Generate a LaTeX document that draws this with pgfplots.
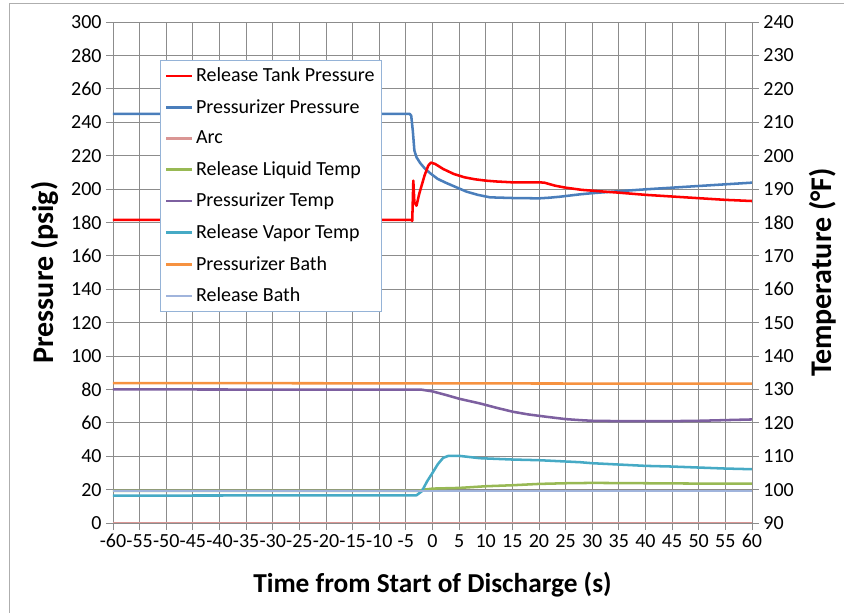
\documentclass[border=0pt]{standalone}
\usepackage{fontspec}
\setmainfont{Carlito}
\usepackage{pgfplots}
\pgfplotsset{compat=1.18}

\definecolor{cRed}{HTML}{FF0000}
\definecolor{cBlue}{HTML}{4A7EBB}
\definecolor{cArc}{HTML}{DA9694}
\definecolor{cGreen}{HTML}{98B954}
\definecolor{cPurple}{HTML}{7D60A0}
\definecolor{cTeal}{HTML}{46AAC5}
\definecolor{cOrange}{HTML}{F69240}
\definecolor{cLBlue}{HTML}{A0B4DC}
\definecolor{cGrid}{HTML}{8C8C8C}
\definecolor{cLeg}{HTML}{95B3D7}

\pgfplotsset{
  common/.style={
    width=479.25pt, height=375.75pt, scale only axis,
    xmin=-60, xmax=60,
    /pgf/number format/assume math mode=true,
    tick label style={font=\fontsize{15}{17}\selectfont},
    tick align=outside, major tick length=5pt,
    tick style={cGrid, line width=0.7pt},
    axis line style={cGrid, line width=0.7pt},
    every axis plot/.append style={line width=1.9pt, line join=round},
    legend image code/.code={\draw[##1] (0pt,0pt) -- (19.5pt,0pt);},
  }
}

\begin{document}
\begin{tikzpicture}
\useasboundingbox (-84.75pt,-67.5pt) rectangle (548.25pt,392.25pt);
\draw[cGrid!70, line width=0.7pt] (-78pt,-80pt) -- (-78pt,390pt) -- (560pt,390pt);

\begin{axis}[common,
  ymin=0, ymax=300, ytick distance=20,
  xtick distance=5,
  xtick pos=bottom, ytick pos=left,
  grid=major, major grid style={cGrid, line width=0.7pt},
  every axis y label/.style={at={(axis description cs:0,0.5)}, xshift=-51pt, rotate=90, anchor=center,
    font=\fontsize{22.5}{26}\selectfont\bfseries},
  every axis x label/.style={at={(axis description cs:0.5,0)}, anchor=center, yshift=-46pt,
    font=\fontsize{20.5}{24}\selectfont\bfseries},
  xlabel={Time from Start of Discharge (s)},
  ylabel={Pressure (psig)},
]
% Arc
\addplot[cArc] coordinates {(-60,0) (60,0)};
% Pressurizer Pressure
\addplot[cBlue] coordinates {
(-60,245) (-4.3,245) (-4,244) (-3.7,235) (-3.4,223) (-3.0,219) (-2.3,215.5)
(-1.5,212.5) (-0.5,209.6) (1,206) (2.6,203.6) (4.5,201) (6.4,198.4) (8.5,196.5)
(10.8,195) (15,194.6) (20,194.4) (22,194.8) (24,195.4) (27.7,196.8) (30,197.5)
(34.6,198.6) (40,199.8) (45,200.8) (50,201.8) (55,202.8) (60,203.8)};
% Release Tank Pressure
\addplot[cRed] coordinates {
(-60,181.5) (-4,181.5) (-3.8,181) (-3.6,205) (-3.4,192) (-3.0,190) (-2.5,197)
(-1.5,208) (-0.8,214) (-0.3,215.8) (0.5,215) (2,212) (4,209) (6,207) (8,205.8)
(10,205) (12,204.5) (15,204) (20,204) (21,203.8) (23,202) (25,200.8) (28,199.5)
(32,198.5) (35,197.8) (40,196.5) (45,195.5) (50,194.5) (55,193.5) (60,192.8)};
\end{axis}

\begin{axis}[common,
  ymin=90, ymax=240, ytick distance=10,
  axis x line=none, axis y line*=right,
  every axis y label/.style={at={(axis description cs:1,0.5)}, xshift=53pt, rotate=90, anchor=center,
    font=\fontsize{22.5}{26}\selectfont\bfseries},
  ylabel={Temperature (°F)},
  legend style={at={(rel axis cs:0.074,0.924)}, anchor=north west,
    draw=cLeg, line width=0.8pt, fill=white, inner xsep=3pt, inner ysep=3.5pt,
    font=\fontsize{15}{17}\selectfont, row sep=7.8pt,
    nodes={inner sep=2pt}, cells={anchor=west}},
]
\addlegendimage{cRed}\addlegendentry{Release Tank Pressure}
\addlegendimage{cBlue}\addlegendentry{Pressurizer Pressure}
\addlegendimage{cArc}\addlegendentry{Arc}
% Release Liquid Temp
\addplot[cGreen] coordinates {
(-60,99.6) (-2.5,99.6) (-2,99.9) (0,100.3) (5,100.5) (10,101) (15,101.3)
(20,101.7) (25,101.9) (30,102) (40,101.9) (50,101.8) (60,101.8)};
\addlegendentry{Release Liquid Temp}
% Pressurizer Temp
\addplot[cPurple] coordinates {
(-60,130) (-2,129.9) (0,129.4) (2.6,128.3) (5,127.2) (8.9,125.8) (12,124.5)
(15.1,123.3) (18,122.5) (21.4,121.8) (25,121.1) (27.7,120.8) (30,120.6) (35,120.5)
(40,120.5) (45,120.5) (50,120.6) (55,120.8) (60,121)};
\addlegendentry{Pressurizer Temp}
% Release Vapor Temp
\addplot[cTeal] coordinates {
(-60,98.2) (-3,98.3) (-2,99.5) (-1,102.5) (0,105) (1,107.6) (2,109.5) (3,110.1)
(5,110.1) (8.9,109.4) (15,109) (20,108.8) (27.7,108.2) (30,107.9) (35,107.5)
(40,107.1) (45,106.9) (50,106.6) (55,106.3) (60,106.1)};
\addlegendentry{Release Vapor Temp}
% Pressurizer Bath
\addplot[cOrange] coordinates {(-60,131.9) (0,131.8) (60,131.7)};
\addlegendentry{Pressurizer Bath}
% Release Bath
\addplot[cLBlue] coordinates {(-60,99.6) (60,99.6)};
\addlegendentry{Release Bath}
\end{axis}
\end{tikzpicture}
\end{document}
